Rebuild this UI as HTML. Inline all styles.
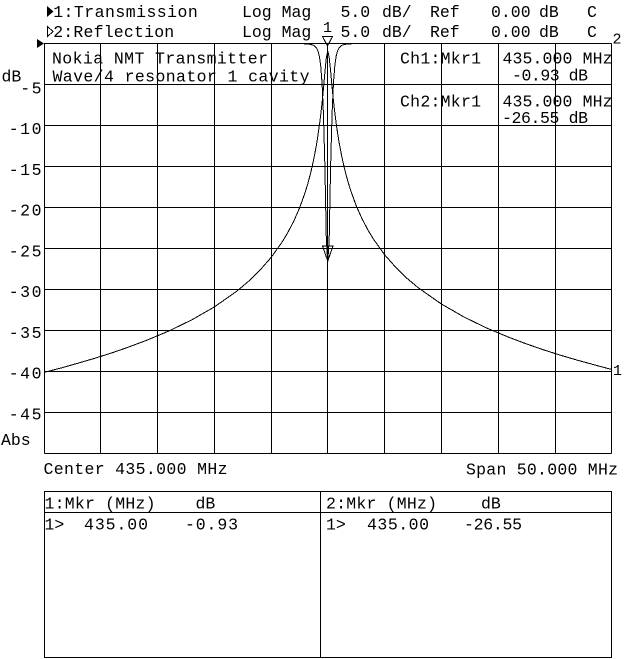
<!DOCTYPE html>
<html><head><meta charset="utf-8"><style>
html,body{margin:0;padding:0;background:#fff;}
svg{display:block;}
text{font-family:"Liberation Mono",monospace;font-size:16.5px;fill:#000;}
.yl{text-anchor:end;letter-spacing:1.5px;}
</style></head><body>
<svg width="640" height="659" viewBox="0 0 640 659" xmlns="http://www.w3.org/2000/svg">
<rect width="640" height="659" fill="#fff"/>
<g stroke="#000" stroke-width="1" shape-rendering="crispEdges" fill="none">
<line x1="44.5" y1="43.5" x2="44.5" y2="453.5"/>
<line x1="100.5" y1="43.5" x2="100.5" y2="453.5"/>
<line x1="157.5" y1="43.5" x2="157.5" y2="453.5"/>
<line x1="214.5" y1="43.5" x2="214.5" y2="453.5"/>
<line x1="271.5" y1="43.5" x2="271.5" y2="453.5"/>
<line x1="327.5" y1="43.5" x2="327.5" y2="453.5"/>
<line x1="384.5" y1="43.5" x2="384.5" y2="453.5"/>
<line x1="441.5" y1="43.5" x2="441.5" y2="453.5"/>
<line x1="498.5" y1="43.5" x2="498.5" y2="453.5"/>
<line x1="555.5" y1="43.5" x2="555.5" y2="453.5"/>
<line x1="611.5" y1="43.5" x2="611.5" y2="453.5"/>
<line x1="44.5" y1="43.5" x2="611.5" y2="43.5"/>
<line x1="44.5" y1="84.5" x2="611.5" y2="84.5"/>
<line x1="44.5" y1="125.5" x2="611.5" y2="125.5"/>
<line x1="44.5" y1="166.5" x2="611.5" y2="166.5"/>
<line x1="44.5" y1="207.5" x2="611.5" y2="207.5"/>
<line x1="44.5" y1="248.5" x2="611.5" y2="248.5"/>
<line x1="44.5" y1="289.5" x2="611.5" y2="289.5"/>
<line x1="44.5" y1="330.5" x2="611.5" y2="330.5"/>
<line x1="44.5" y1="371.5" x2="611.5" y2="371.5"/>
<line x1="44.5" y1="412.5" x2="611.5" y2="412.5"/>
<line x1="44.5" y1="453.5" x2="611.5" y2="453.5"/>
<!-- table -->
<rect x="44.5" y="491.5" width="567" height="166"/>
<line x1="320.5" y1="491.5" x2="320.5" y2="657.5"/>
<line x1="44.5" y1="512.5" x2="611.5" y2="512.5"/>
<!-- transmission trace -->
<polyline points="44,372.4 61,368 78.05,363.2 95.1,358.2 112.1,352.8 129.1,346.9 146.15,340.5 168.85,331 191.55,320 214.25,307 236.95,291.1 248.3,281.5 259.65,270.5 271,257.6 282.35,241.7 288,232.2 293.7,221.3 299.4,208.4 305.05,192.7 307.9,183.4 310.7,172.7 313.55,160.2 316.4,145.2 317.8,136.4 319.2,126.6 320.66,115.4 322.1,102.7 323.5,88.2 324.9,72.3 326.33,57.7 327.75,51.1 329.17,57.2 330.6,71 332,86.2 333.4,100.4 334.84,112.9 336.26,124 337.7,133.7 339.1,142.4 341.94,157.3 344.8,169.8 347.6,180.4 350.45,189.8 356.1,205.4 361.8,218.3 367.5,229.2 373.15,238.7 384.5,254.6 395.85,267.5 407.2,278.5 418.55,288 441.25,303.9 463.95,317 486.65,328 509.35,337.5 526.4,343.9 543.4,349.8 560.4,355.2 577.45,360.2 594.5,364.9 611.5,369.4"/>
<!-- reflection trace -->
<polyline points="44,43.5 300,43.6 305.05,43.8 307.9,44 310.7,44.4 313.56,45.3 316.4,47.8 317.82,50.6 319.24,55.7 320.66,65.4 322.08,83.4 323.49,115.2 324.91,167.1 326.33,239.9 327.75,261.8 329.17,239.9 330.59,167.1 332.01,115.2 333.43,83.4 334.84,65.4 336.26,55.7 337.68,50.6 339.1,47.8 341.94,45.3 344.78,44.4 347.6,44 350.45,43.8 355,43.6 611.5,43.5"/>
<!-- markers -->
<polygon points="322.5,36.5 332.5,36.5 327.5,46"/>
<polygon points="322.5,246 333,246 327.75,261"/>
<polygon points="47.5,26.5 53,31.5 47.5,36.5"/>
</g>
<polygon points="47,6 53.5,11.5 47,17" fill="#000"/>
<polygon points="37,39 44,43.5 37,48" fill="#000"/>

<!-- header -->
<text x="53.2" y="17" textLength="144.6">1:Transmission</text>
<text x="242" y="17">Log Mag</text>
<text x="340.5" y="17">5.0</text>
<text x="382" y="17">dB/</text>
<text x="430" y="17">Ref</text>
<text x="491" y="17">0.00</text>
<text x="539" y="17">dB</text>
<text x="587" y="17">C</text>

<text x="53.2" y="37" textLength="121">2:Reflection</text>
<text x="242" y="37">Log Mag</text>
<text x="340.5" y="37">5.0</text>
<text x="382" y="37">dB/</text>
<text x="430" y="37">Ref</text>
<text x="491" y="37">0.00</text>
<text x="539" y="37">dB</text>
<text x="587" y="37">C</text>

<text x="327.5" y="32" text-anchor="middle" style="font-size:15px">1</text>

<!-- annotations -->
<text x="52" y="63.5" textLength="216">Nokia NMT Transmitter</text>
<text x="52.5" y="81.5" textLength="257">Wave/4 resonator 1 cavity</text>
<text x="400" y="63.5" textLength="81">Ch1:Mkr1</text>
<text x="502.5" y="63.5" textLength="110">435.000 MHz</text>
<text x="512" y="80.5" textLength="76">-0.93 dB</text>
<text x="400" y="106.5" textLength="81">Ch2:Mkr1</text>
<text x="502.5" y="106.5" textLength="110">435.000 MHz</text>
<text x="502" y="123" textLength="86">-26.55 dB</text>
<text x="612.5" y="43.5" style="font-size:15px">2</text>
<text x="613" y="375" style="font-size:15px">1</text>

<!-- y labels -->
<text x="1.5" y="81.5">dB</text>
<text class="yl" x="43" y="93.3">-5</text>
<text class="yl" x="43" y="134">-10</text>
<text class="yl" x="43" y="174.8">-15</text>
<text class="yl" x="43" y="215.5">-20</text>
<text class="yl" x="43" y="256.3">-25</text>
<text class="yl" x="43" y="297">-30</text>
<text class="yl" x="43" y="337.8">-35</text>
<text class="yl" x="43" y="378.5">-40</text>
<text class="yl" x="43" y="419.3">-45</text>
<text x="1" y="445">Abs</text>

<text x="43.5" y="474" textLength="184">Center 435.000 MHz</text>
<text x="466" y="474.5" textLength="152">Span 50.000 MHz</text>

<!-- table text -->
<text x="44.5" y="508.5" textLength="111">1:Mkr (MHz)</text>
<text x="195.5" y="508.5">dB</text>
<text x="44.5" y="529.5">1&gt;</text>
<text x="84" y="529.5" textLength="64">435.00</text>
<text x="185" y="529.5" textLength="53">-0.93</text>
<text x="326" y="508.5" textLength="111">2:Mkr (MHz)</text>
<text x="481" y="508.5">dB</text>
<text x="326" y="529.5">1&gt;</text>
<text x="367" y="529.5" textLength="62">435.00</text>
<text x="464" y="529.5" textLength="58">-26.55</text>
</svg>
</body></html>
